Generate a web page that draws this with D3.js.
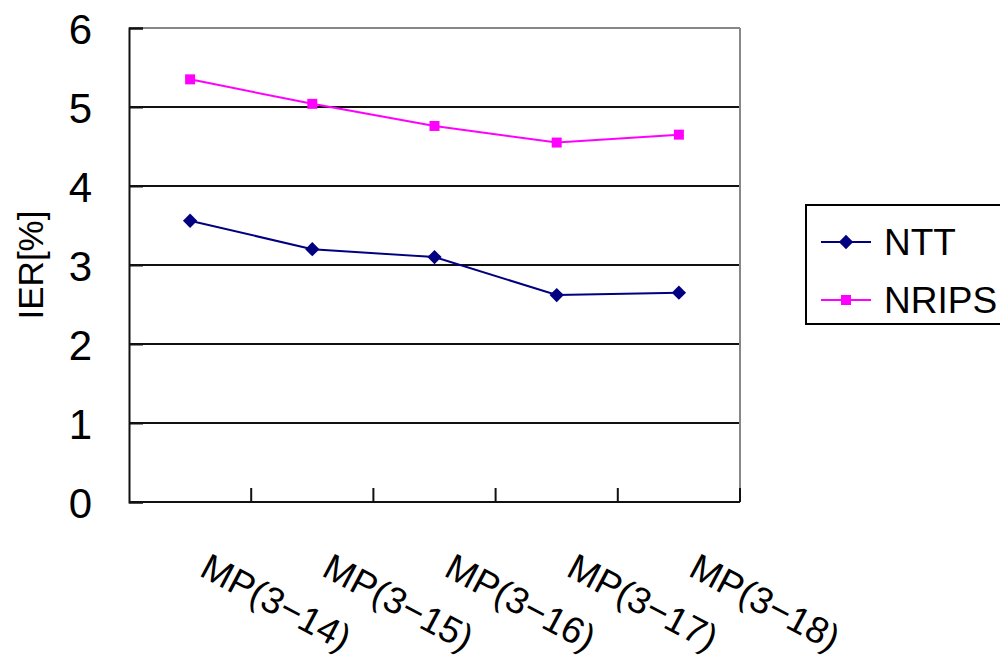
<!DOCTYPE html>
<html>
<head>
<meta charset="utf-8">
<script src="https://cdn.jsdelivr.net/npm/d3@7"></script>
<style>
	body { margin: 0; background: #fff; }
	svg { display: block; font-family: "Liberation Sans", Arial, sans-serif; }
</style>
</head>
<body>
<div id="chart"></div>
<script>
var categories = ['MP(3\u221214)', 'MP(3\u221215)', 'MP(3\u221216)', 'MP(3\u221217)', 'MP(3\u221218)'];
var nttValues = [3.56, 3.20, 3.10, 2.62, 2.65];
var nripsValues = [5.35, 5.04, 4.76, 4.55, 4.65];
var yTicks = [0, 1, 2, 3, 4, 5, 6];
var seriesNames = ['NTT', 'NRIPS'];

(function ()	{
	'use strict';

	var width = 1000, height = 662;
	var plot = { left: 129, right: 740, top: 28, bottom: 502 };

	var svg = d3.select('#chart').append('svg')
							.attr('width', width)
							.attr('height', height);

	var x = d3.scaleBand().domain(categories)
						.range([plot.left, plot.right]);
	var y = d3.scaleLinear().domain([0, 6])
						.range([plot.bottom, plot.top]);

	// grid lines
	svg.append('g').selectAll('line')
		 .data(yTicks.slice(1))
		 .enter().append('line')
		 .attr('x1', plot.left).attr('x2', plot.right)
		 .attr('y1', function (d) { return y(d); })
		 .attr('y2', function (d) { return y(d); })
		 .attr('stroke', function (d) { return d === 6 ? '#888' : '#111'; })
		 .attr('stroke-width', 2);

	// right border
	svg.append('line')
		 .attr('x1', plot.right).attr('x2', plot.right)
		 .attr('y1', plot.top).attr('y2', plot.bottom)
		 .attr('stroke', '#888').attr('stroke-width', 2);

	// y axis
	var yAxis = d3.axisLeft(y).tickValues(yTicks)
								.tickFormat(d3.format('d'))
								.tickSize(-14).tickPadding(37);
	var gy = svg.append('g')
							.attr('transform', 'translate(' + plot.left + ',0)')
							.call(yAxis);
	gy.select('.domain').attr('stroke', '#111').attr('stroke-width', 2);
	gy.selectAll('.tick line').attr('stroke', '#111').attr('stroke-width', 2);
	gy.selectAll('.tick text')
		.attr('font-size', 42)
		.attr('fill', '#000')
		.attr('dy', '0.36em')
		.attr('font-family', '"Liberation Sans Narrow", "Liberation Sans", Arial, sans-serif');

	// x axis with ticks pointing inward at band boundaries
	var gx = svg.append('g');
	gx.append('line')
		.attr('x1', plot.left).attr('x2', plot.right)
		.attr('y1', plot.bottom).attr('y2', plot.bottom)
		.attr('stroke', '#111').attr('stroke-width', 2);
	gx.selectAll('.xtick')
		.data(categories)
		.enter().append('line')
		.attr('class', 'xtick')
		.attr('x1', function (d) { return x(d) + x.bandwidth(); })
		.attr('x2', function (d) { return x(d) + x.bandwidth(); })
		.attr('y1', plot.bottom).attr('y2', plot.bottom - 14)
		.attr('stroke', '#111').attr('stroke-width', 2);

	gx.selectAll('.xlabel')
		.data(categories)
		.enter().append('text')
		.attr('class', 'xlabel')
		.attr('transform', function (d)	{
			return 'translate(' + (x(d) + x.bandwidth() / 2 + 8) + ',' + 575 + ') rotate(28)';
		})
		.attr('font-size', 37)
		.attr('fill', '#000')
		.text(function (d) { return d; });

	// y axis title
	svg.append('text')
		 .attr('transform', 'translate(43,265) rotate(-90)')
		 .attr('text-anchor', 'middle')
		 .attr('font-size', 35)
		 .attr('fill', '#000')
		 .text('IER[%]');

	var cx = function (d, i) { return x(categories[i]) + x.bandwidth() / 2; };
	var line = d3.line()
							 .x(function (d, i) { return cx(d, i); })
							 .y(function (d) { return y(d); });

	var diamond = d3.symbol().type(d3.symbolDiamond2).size(130);
	var square = d3.symbol().type(d3.symbolSquare).size(100);

	// NTT
	svg.append('path').datum(nttValues)
		 .attr('d', line).attr('fill', 'none')
		 .attr('stroke', '#000080').attr('stroke-width', 2);
	svg.append('g').selectAll('path')
		 .data(nttValues).enter().append('path')
		 .attr('d', diamond)
		 .attr('transform', function (d, i) { return 'translate(' + cx(d, i) + ',' + y(d) + ')'; })
		 .attr('fill', '#000080');

	// NRIPS
	svg.append('path').datum(nripsValues)
		 .attr('d', line).attr('fill', 'none')
		 .attr('stroke', '#ff00ff').attr('stroke-width', 2);
	svg.append('g').selectAll('path')
		 .data(nripsValues).enter().append('path')
		 .attr('d', square)
		 .attr('transform', function (d, i) { return 'translate(' + cx(d, i) + ',' + y(d) + ')'; })
		 .attr('fill', '#ff00ff');

	// legend
	var legend = svg.append('g');
	legend.append('rect')
		.attr('x', 806).attr('y', 205)
		.attr('width', 220).attr('height', 119)
		.attr('fill', '#fff').attr('stroke', '#000').attr('stroke-width', 2);

	var items = [
		{ name: seriesNames[0], color: '#000080', sym: diamond, y: 242 },
		{ name: seriesNames[1], color: '#ff00ff', sym: square, y: 300 }
	];
	items.forEach(function (it)	{
		legend.append('line')
			.attr('x1', 821).attr('x2', 871)
			.attr('y1', it.y).attr('y2', it.y)
			.attr('stroke', it.color).attr('stroke-width', 2);
		legend.append('path')
			.attr('d', it.sym)
			.attr('transform', 'translate(846,' + it.y + ')')
			.attr('fill', it.color);
		legend.append('text')
			.attr('x', 884).attr('y', it.y + 13)
			.attr('font-size', 37)
			.attr('fill', '#000')
			.text(it.name);
	});
})();
</script>
</body>
</html>
